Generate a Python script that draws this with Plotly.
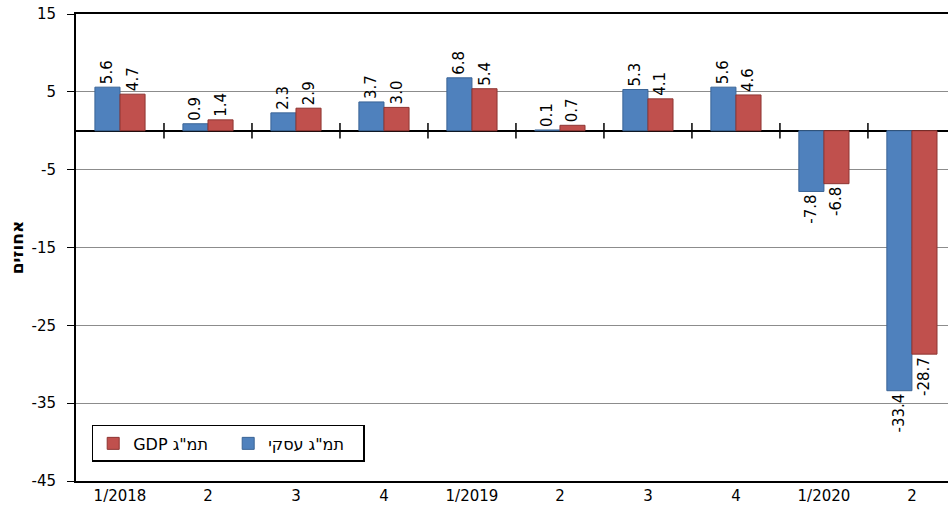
import plotly.graph_objects as go

# רבעונים
quarters = ["1/2018", "2", "3", "4", "1/2019", "2", "3", "4", "1/2020", "2"]
business_gdp = [5.6, 0.9, 2.3, 3.7, 6.8, 0.1, 5.3, 5.6, -7.8, -33.4]
gdp = [4.7, 1.4, 2.9, 3.0, 5.4, 0.7, 4.1, 4.6, -6.8, -28.7]
y_ticks = [-45, -35, -25, -15, -5, 5, 15]

FONT = "DejaVu Sans"
pos = list(range(len(quarters)))

fig = go.Figure()

fig.add_trace(go.Bar(
    x=pos, y=business_gdp, name='תמ"ג עסקי',
    marker=dict(color="#4F81BD", line=dict(color="#3A6496", width=1)),
    text=[f"{v:.1f}" for v in business_gdp], textposition="outside",
    textangle=-90, textfont=dict(family=FONT, size=15, color="black"),
    cliponaxis=False,
))
fig.add_trace(go.Bar(
    x=pos, y=gdp, name='GDP תמ"ג',
    marker=dict(color="#C0504D", line=dict(color="#8E3532", width=1)),
    text=[f"{v:.1f}" for v in gdp], textposition="outside",
    textangle=-90, textfont=dict(family=FONT, size=15, color="black"),
    cliponaxis=False,
))

# סימוני קטגוריה על קו האפס
bounds = [p + 0.5 for p in pos[:-1]]
fig.add_trace(go.Scatter(
    x=bounds, y=[0] * len(bounds), mode="markers",
    marker=dict(symbol="line-ns", size=11, line=dict(color="black", width=1.5)),
    showlegend=False, hoverinfo="skip",
))

fig.update_layout(
    width=948, height=521,
    margin=dict(l=76, r=0, t=14, b=40, autoexpand=False),
    plot_bgcolor="white", paper_bgcolor="white",
    barmode="group", bargap=0.43, bargroupgap=0,
    uniformtext=dict(minsize=15, mode="show"),
    font=dict(family=FONT, size=15, color="black"),
    legend=dict(
        orientation="h", traceorder="reversed",
        x=0.018, y=0.12, xanchor="left", yanchor="top",
        bordercolor="black", borderwidth=1.5, bgcolor="white",
        font=dict(family=FONT, size=16), entrywidth=90,
        itemwidth=30,
    ),
    xaxis=dict(
        range=[-0.5, 9.41], tickvals=pos, ticktext=quarters,
        showgrid=False, zeroline=False, automargin=False,
        showline=True, linecolor="black", linewidth=2, mirror=True,
        ticks="",
    ),
    yaxis=dict(
        range=[-45, 15], tickvals=y_ticks,
        ticktext=[str(v) for v in y_ticks],
        showgrid=True, gridcolor="#8C8C8C", gridwidth=1, automargin=False,
        zeroline=True, zerolinecolor="black", zerolinewidth=1.5,
        showline=True, linecolor="black", linewidth=2,
        ticks="outside", ticklen=7, tickcolor="black",
        ticklabelstandoff=8,
        title=dict(text="<b>אחוזים</b>", standoff=4, font=dict(size=17)),
    ),
)

# בלי שולי ברירת המחדל של הדף
fig.write_html("out.html", config={"displayModeBar": False},
               post_script="document.body.style.margin='0';")
